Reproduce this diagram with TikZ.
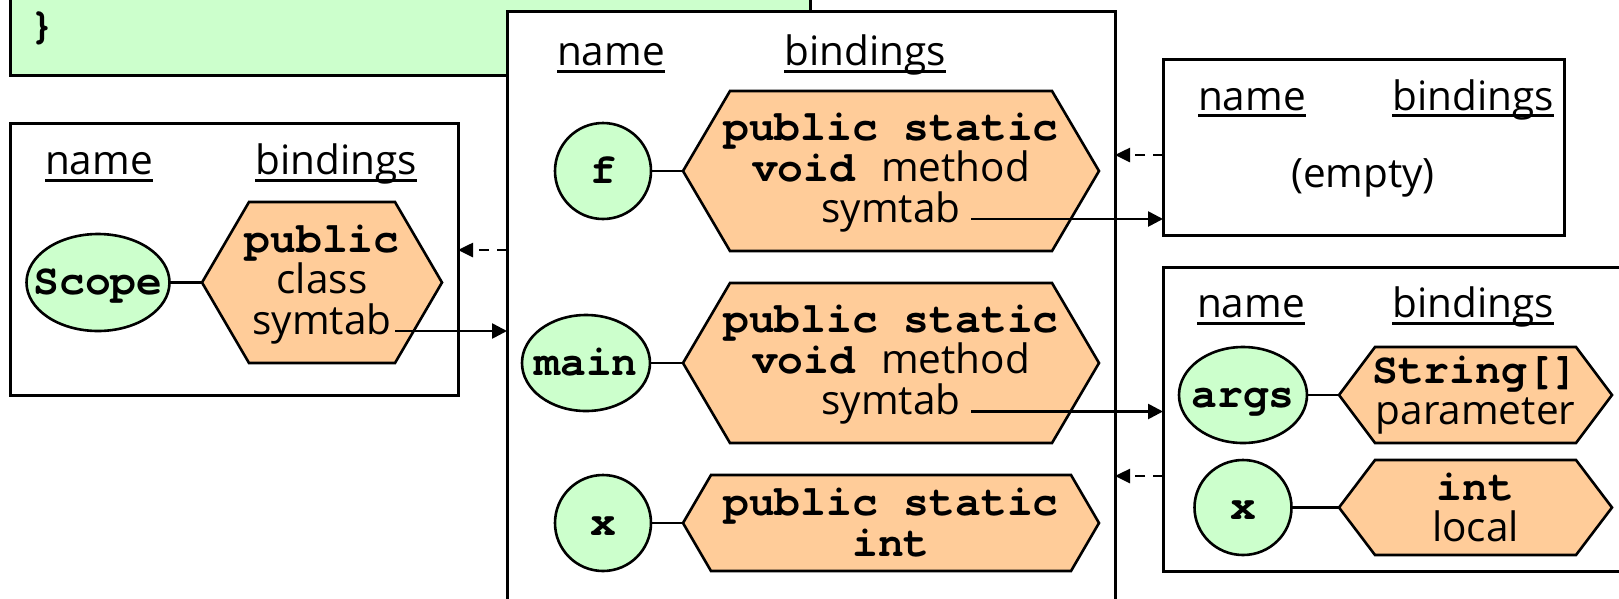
\documentclass[tikz,border=0pt]{standalone}
\usepackage{fontspec}
\setmainfont{Open Sans}
\newfontfamily\codefont{TeX Gyre Cursor}
\usetikzlibrary{arrows.meta,shapes.geometric}

\definecolor{scopegreen}{HTML}{CCFFCC}
\definecolor{bindpeach}{HTML}{FFCC99}

% bold code words
\newcommand\kw[1]{{\codefont\bfseries\fontsize{43}{41}\selectfont #1}}

% underlined column header: name, x, baseline y, text
\newcommand\colhead[4]{%
  \node[headtext] (#1) at (#2,#3) {#4};
  \draw[headrule] ([yshift=-5.5pt]#1.base west) -- ([yshift=-5.5pt]#1.base east);}

% binding hexagon: name, x, y, width, height, slant
\newcommand\hexat[6]{%
  \node[hexarea, minimum width=#4pt, minimum height=#5pt] (#1) at (#2,#3) {};
  \filldraw[hexline] (#1.west) -- ([xshift=#6pt]#1.north west)
    -- ([xshift=-#6pt]#1.north east) -- (#1.east)
    -- ([xshift=-#6pt]#1.south east) -- ([xshift=#6pt]#1.south west) -- cycle;}

\tikzset{
  codebox/.style={draw, fill=scopegreen, line width=3pt, inner sep=0pt, outer sep=0pt},
  frame/.style={draw, fill=white, line width=3pt, inner sep=0pt, outer sep=0pt},
  headtext/.style={anchor=base, inner sep=0pt, outer sep=0pt},
  headrule/.style={line width=3pt},
  hexarea/.style={rectangle, inner sep=0pt, outer sep=0pt},
  hexline/.style={fill=bindpeach, draw=black, line width=2.6pt, line join=miter},
  celltext/.style={align=center, inner sep=0pt},
  bubble/.style={ellipse, draw, fill=scopegreen, line width=2.6pt, inner sep=0pt, outer sep=0pt},
  bubbletext/.style={inner sep=0pt, text height=24pt, text depth=0pt},
  link/.style={line width=2.6pt},
  solidarrow/.style={line width=2.6pt, -{Triangle[length=15pt,width=15pt]}},
  dasharrow/.style={line width=2.6pt, dash pattern=on 10pt off 8pt, -{Triangle[length=15pt,width=14pt]}}
}

\begin{document}
\begin{tikzpicture}[x=1pt, y=-1pt, font=\fontsize{40.5}{41}\selectfont]
\useasboundingbox (0,0) rectangle (1619,598);

% end of the source listing
\node[codebox, minimum width=800pt, minimum height=95pt] (code) at (410,27.5) {};
\node[inner sep=0pt] (brace) at (42,28) {\kw{\}}};

% symbol table frames
\node[frame, minimum width=448pt, minimum height=272pt] (outer) at (234,259) {};
\node[frame, minimum width=608pt, minimum height=609pt] (cls) at (811,315.5) {};
\node[frame, minimum width=401pt, minimum height=176pt] (fscope) at (1363.5,147) {};
\node[frame, minimum width=477pt, minimum height=304pt] (mscope) at (1401.5,419) {};

% column headers
\colhead{outername}{99}{174.5}{name}
\colhead{outerbind}{336}{174.5}{bindings}
\colhead{clsname}{611}{65.5}{name}
\colhead{clsbind}{865}{65.5}{bindings}
\colhead{fname}{1252}{110}{name}
\colhead{fbind}{1473}{110}{bindings}
\colhead{mname}{1251}{317.5}{name}
\colhead{mbind}{1473}{317.5}{bindings}

\node[inner sep=0pt] (emptynote) at (1363,178) {(empty)};

% bindings
\hexat{scopeb}{322}{282.5}{240}{161}{47}
\node[celltext] (scopet) at ([yshift=-2pt]scopeb.center) {\kw{public}\\class\\symtab};
\hexat{fb}{891}{171}{416}{160}{47}
\node[celltext] (ft) at ([yshift=-2pt]fb.center) {\kw{public static}\\\kw{void }method\\symtab};
\hexat{mainb}{891}{363}{416}{160}{47}
\node[celltext] (maint) at ([yshift=-2pt]mainb.center) {\kw{public static}\\\kw{void }method\\symtab};
\hexat{xb}{891}{523}{416}{96}{28}
\node[celltext] (xt) at (xb) {\kw{public static}\\\kw{int}};
\hexat{argsb}{1475.5}{395}{273}{96}{36}
\node[celltext] (argst) at (argsb) {\kw{String[]}\\parameter};
\hexat{locb}{1475.5}{507.5}{273}{95}{36}
\node[celltext] (loct) at (locb) {\kw{int}\\local};

% names
\node[bubble, minimum width=143pt, minimum height=97pt, label={[bubbletext]center:\kw{Scope}}] (scopen) at (98,282.5) {};
\node[bubble, minimum width=96pt, minimum height=96pt, label={[bubbletext]center:\kw{f}}] (fn) at (603,171) {};
\node[bubble, minimum width=128pt, minimum height=96pt, label={[bubbletext]center:\kw{main}}] (mainn) at (586,363) {};
\node[bubble, minimum width=96pt, minimum height=96pt, label={[bubbletext]center:\kw{x}}] (xn) at (603,523) {};
\node[bubble, minimum width=128pt, minimum height=96pt, label={[bubbletext]center:\kw{args}}] (argsn) at (1243,395) {};
\node[bubble, minimum width=97pt, minimum height=95pt, label={[bubbletext]center:\kw{x}}] (locn) at (1243,507.5) {};

\draw[link] (scopen) -- (scopeb);
\draw[link] (fn) -- (fb);
\draw[link] (mainn) -- (mainb);
\draw[link] (xn) -- (xb);
\draw[link] (argsn) -- (argsb);
\draw[link] (locn) -- (locb);

% nested symbol tables
\coordinate (sym0) at (395,331);
\coordinate (sym1) at (971,219);
\coordinate (sym2) at (971,411.5);
\draw[solidarrow] (sym0) -- (sym0 -| cls.west);
\draw[solidarrow] (sym1) -- (sym1 -| fscope.west);
\draw[solidarrow] (sym2) -- (sym2 -| mscope.west);

% links to the enclosing scope
\coordinate (up0) at (0,250);
\coordinate (up1) at (0,155);
\coordinate (up2) at (0,476);
\draw[dasharrow] (cls.west |- up0) -- (outer.east |- up0);
\draw[dasharrow] (fscope.west |- up1) -- (cls.east |- up1);
\draw[dasharrow] (mscope.west |- up2) -- (cls.east |- up2);
\end{tikzpicture}
\end{document}
